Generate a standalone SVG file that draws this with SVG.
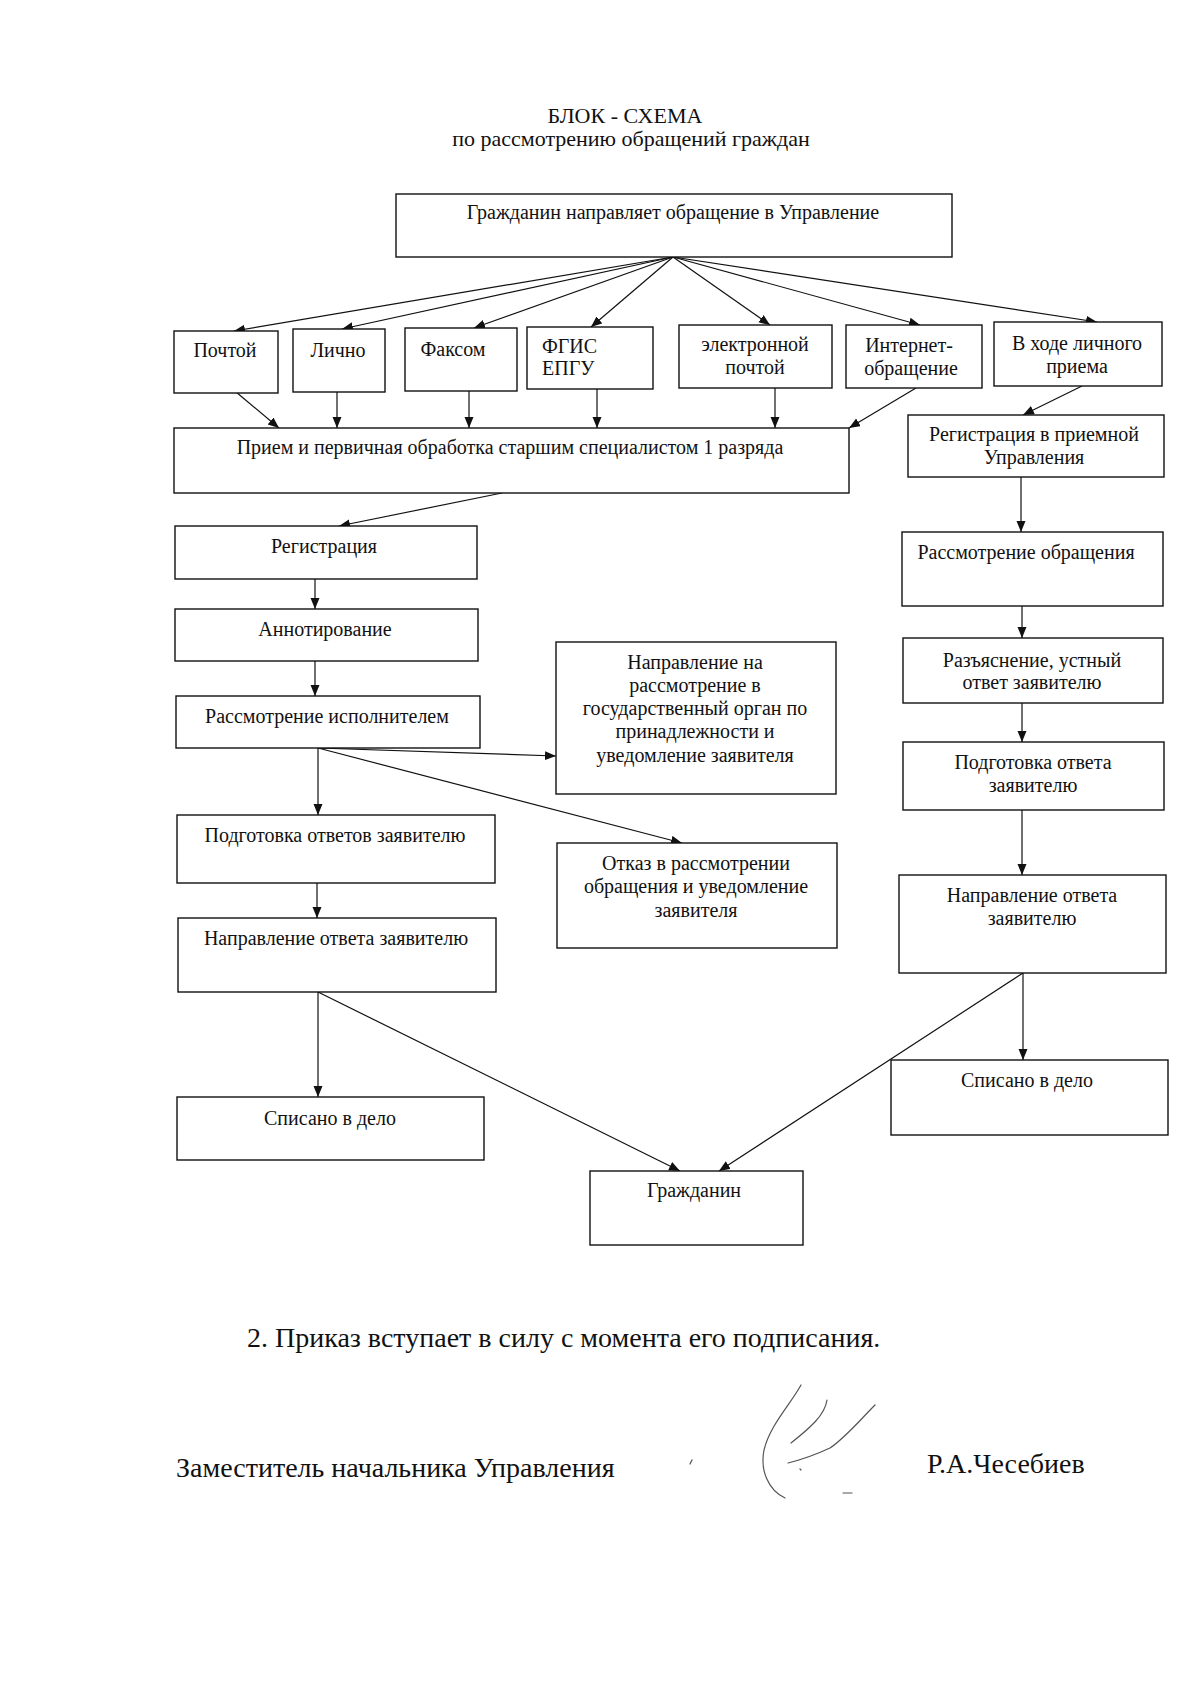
<svg xmlns="http://www.w3.org/2000/svg" width="1200" height="1697" viewBox="0 0 1200 1697">
<style>
.box{fill:#fff;stroke:#111;stroke-width:1.4}
.t{font-family:"Liberation Serif","Times New Roman",serif;font-size:20px;fill:#111;text-anchor:middle}
.tl{font-family:"Liberation Serif","Times New Roman",serif;font-size:20px;fill:#111}
.c{fill:none;stroke:#111;stroke-width:1.2}
.h{font-family:"Liberation Serif","Times New Roman",serif;font-size:22px;fill:#111;text-anchor:middle}
.big{font-family:"Liberation Serif","Times New Roman",serif;font-size:28px;fill:#111}
.sig{fill:none;stroke:#555;stroke-width:1.2;stroke-linecap:round}
</style>
<defs>
<marker id="ah" markerUnits="userSpaceOnUse" markerWidth="12" markerHeight="10" refX="11" refY="4.5" orient="auto">
<path d="M0,0 L11,4.5 L0,9 z" fill="#111"/>
</marker>
</defs>
<rect width="1200" height="1697" fill="#fff"/>

<text class="h" x="625" y="123">БЛОК - СХЕМА</text>
<text class="h" x="631" y="146">по рассмотрению обращений граждан</text>

<g id="connectors">
<line class="c" x1="673" y1="257" x2="234" y2="331" marker-end="url(#ah)"/>
<line class="c" x1="673" y1="257" x2="342" y2="329" marker-end="url(#ah)"/>
<line class="c" x1="673" y1="257" x2="474" y2="328" marker-end="url(#ah)"/>
<line class="c" x1="673" y1="257" x2="591" y2="327" marker-end="url(#ah)"/>
<line class="c" x1="673" y1="257" x2="770" y2="325" marker-end="url(#ah)"/>
<line class="c" x1="673" y1="257" x2="920" y2="325" marker-end="url(#ah)"/>
<line class="c" x1="673" y1="257" x2="1097" y2="322" marker-end="url(#ah)"/>

<line class="c" x1="236" y1="392" x2="279" y2="428" marker-end="url(#ah)"/>
<line class="c" x1="337" y1="392" x2="337" y2="428" marker-end="url(#ah)"/>
<line class="c" x1="469" y1="391" x2="469" y2="428" marker-end="url(#ah)"/>
<line class="c" x1="597" y1="389" x2="597" y2="428" marker-end="url(#ah)"/>
<line class="c" x1="775" y1="388" x2="775" y2="428" marker-end="url(#ah)"/>
<line class="c" x1="916" y1="388" x2="849" y2="428" marker-end="url(#ah)"/>
<line class="c" x1="1082" y1="386" x2="1023" y2="415" marker-end="url(#ah)"/>

<line class="c" x1="1021" y1="477" x2="1021" y2="532" marker-end="url(#ah)"/>
<line class="c" x1="1022" y1="606" x2="1022" y2="638" marker-end="url(#ah)"/>
<line class="c" x1="1022" y1="703" x2="1022" y2="742" marker-end="url(#ah)"/>
<line class="c" x1="1022" y1="810" x2="1022" y2="875" marker-end="url(#ah)"/>
<line class="c" x1="1023" y1="973" x2="1023" y2="1060" marker-end="url(#ah)"/>
<line class="c" x1="1023" y1="973" x2="719" y2="1171" marker-end="url(#ah)"/>

<line class="c" x1="502" y1="493" x2="339" y2="526" marker-end="url(#ah)"/>
<line class="c" x1="315" y1="579" x2="315" y2="609" marker-end="url(#ah)"/>
<line class="c" x1="315" y1="661" x2="315" y2="696" marker-end="url(#ah)"/>
<line class="c" x1="318" y1="748" x2="318" y2="815" marker-end="url(#ah)"/>
<line class="c" x1="318" y1="748" x2="556" y2="756" marker-end="url(#ah)"/>
<line class="c" x1="318" y1="748" x2="682" y2="843" marker-end="url(#ah)"/>
<line class="c" x1="317" y1="883" x2="317" y2="918" marker-end="url(#ah)"/>
<line class="c" x1="318" y1="992" x2="318" y2="1097" marker-end="url(#ah)"/>
<line class="c" x1="318" y1="992" x2="680" y2="1171" marker-end="url(#ah)"/>
</g>

<g id="n-top"><rect class="box" x="396" y="194" width="556" height="63"/><text class="t" x="673" y="219">Гражданин направляет обращение в Управление</text></g>

<g id="n-pochtoy"><rect class="box" x="174" y="331" width="104" height="62"/><text class="t" x="225" y="357">Почтой</text></g>
<g id="n-lichno"><rect class="box" x="293" y="329" width="92" height="63"/><text class="t" x="338" y="357">Лично</text></g>
<g id="n-faks"><rect class="box" x="405" y="328" width="112" height="63"/><text class="t" x="453" y="356">Факсом</text></g>
<g id="n-fgis"><rect class="box" x="527" y="327" width="126" height="62"/><text class="tl" x="542" y="353">ФГИС</text><text class="tl" x="542" y="375">ЕПГУ</text></g>
<g id="n-email"><rect class="box" x="679" y="325" width="153" height="63"/><text class="t" x="755" y="351">электронной</text><text class="t" x="755" y="374">почтой</text></g>
<g id="n-internet"><rect class="box" x="846" y="325" width="136" height="63"/><text class="t" x="909" y="352">Интернет-</text><text class="t" x="911" y="375">обращение</text></g>
<g id="n-priem"><rect class="box" x="994" y="322" width="168" height="64"/><text class="t" x="1077" y="350">В ходе личного</text><text class="t" x="1077" y="373">приема</text></g>

<g id="n-main"><rect class="box" x="174" y="428" width="675" height="65"/><text class="t" x="510" y="454">Прием и первичная обработка старшим специалистом 1 разряда</text></g>

<g id="n-regpriem"><rect class="box" x="908" y="415" width="256" height="62"/><text class="t" x="1034" y="441">Регистрация в приемной</text><text class="t" x="1034" y="464">Управления</text></g>
<g id="n-rassm-obr"><rect class="box" x="902" y="532" width="261" height="74"/><text class="t" x="1026" y="559">Рассмотрение обращения</text></g>
<g id="n-razyasn"><rect class="box" x="903" y="638" width="260" height="65"/><text class="t" x="1032" y="667">Разъяснение, устный</text><text class="t" x="1032" y="689">ответ заявителю</text></g>
<g id="n-podg-r"><rect class="box" x="903" y="742" width="261" height="68"/><text class="t" x="1033" y="769">Подготовка ответа</text><text class="t" x="1033" y="792">заявителю</text></g>
<g id="n-napr-r"><rect class="box" x="899" y="875" width="267" height="98"/><text class="t" x="1032" y="902">Направление ответа</text><text class="t" x="1032" y="925">заявителю</text></g>
<g id="n-spis-r"><rect class="box" x="891" y="1060" width="277" height="75"/><text class="t" x="1027" y="1087">Списано в дело</text></g>

<g id="n-reg"><rect class="box" x="175" y="526" width="302" height="53"/><text class="t" x="324" y="553">Регистрация</text></g>
<g id="n-annot"><rect class="box" x="175" y="609" width="303" height="52"/><text class="t" x="325" y="636">Аннотирование</text></g>
<g id="n-rassm-isp"><rect class="box" x="176" y="696" width="304" height="52"/><text class="t" x="327" y="723">Рассмотрение исполнителем</text></g>
<g id="n-napr-gos"><rect class="box" x="556" y="642" width="280" height="152"/><text class="t" x="695" y="669">Направление на</text><text class="t" x="695" y="692">рассмотрение в</text><text class="t" x="695" y="715">государственный орган по</text><text class="t" x="695" y="738">принадлежности и</text><text class="t" x="695" y="762">уведомление заявителя</text></g>
<g id="n-otkaz"><rect class="box" x="557" y="843" width="280" height="105"/><text class="t" x="696" y="870">Отказ в рассмотрении</text><text class="t" x="696" y="893">обращения и уведомление</text><text class="t" x="696" y="917">заявителя</text></g>
<g id="n-podg-l"><rect class="box" x="177" y="815" width="318" height="68"/><text class="t" x="335" y="842">Подготовка ответов заявителю</text></g>
<g id="n-napr-l"><rect class="box" x="178" y="918" width="318" height="74"/><text class="t" x="336" y="945">Направление ответа заявителю</text></g>
<g id="n-spis-l"><rect class="box" x="177" y="1097" width="307" height="63"/><text class="t" x="330" y="1125">Списано в дело</text></g>
<g id="n-grazhd"><rect class="box" x="590" y="1171" width="213" height="74"/><text class="t" x="694" y="1197">Гражданин</text></g>

<text class="big" x="247" y="1347">2. Приказ вступает в силу с момента его подписания.</text>
<text class="big" x="176" y="1477">Заместитель начальника Управления</text>
<text class="big" x="927" y="1473">Р.А.Чесебиев</text>

<g id="signature">
<path class="sig" d="M801,1385 C790,1405 770,1425 764,1450 C760,1470 768,1490 785,1498"/>
<path class="sig" d="M827,1400 C825,1415 810,1428 791,1443"/>
<path class="sig" d="M875,1405 C860,1420 845,1438 830,1448 C815,1455 800,1460 788,1463"/>
<path class="sig" d="M692,1460 L690,1464"/>
<path class="sig" d="M800,1469 L801,1470"/>
<path class="sig" d="M843,1493 L852,1493" stroke-width="0.8"/>
</g>
</svg>
